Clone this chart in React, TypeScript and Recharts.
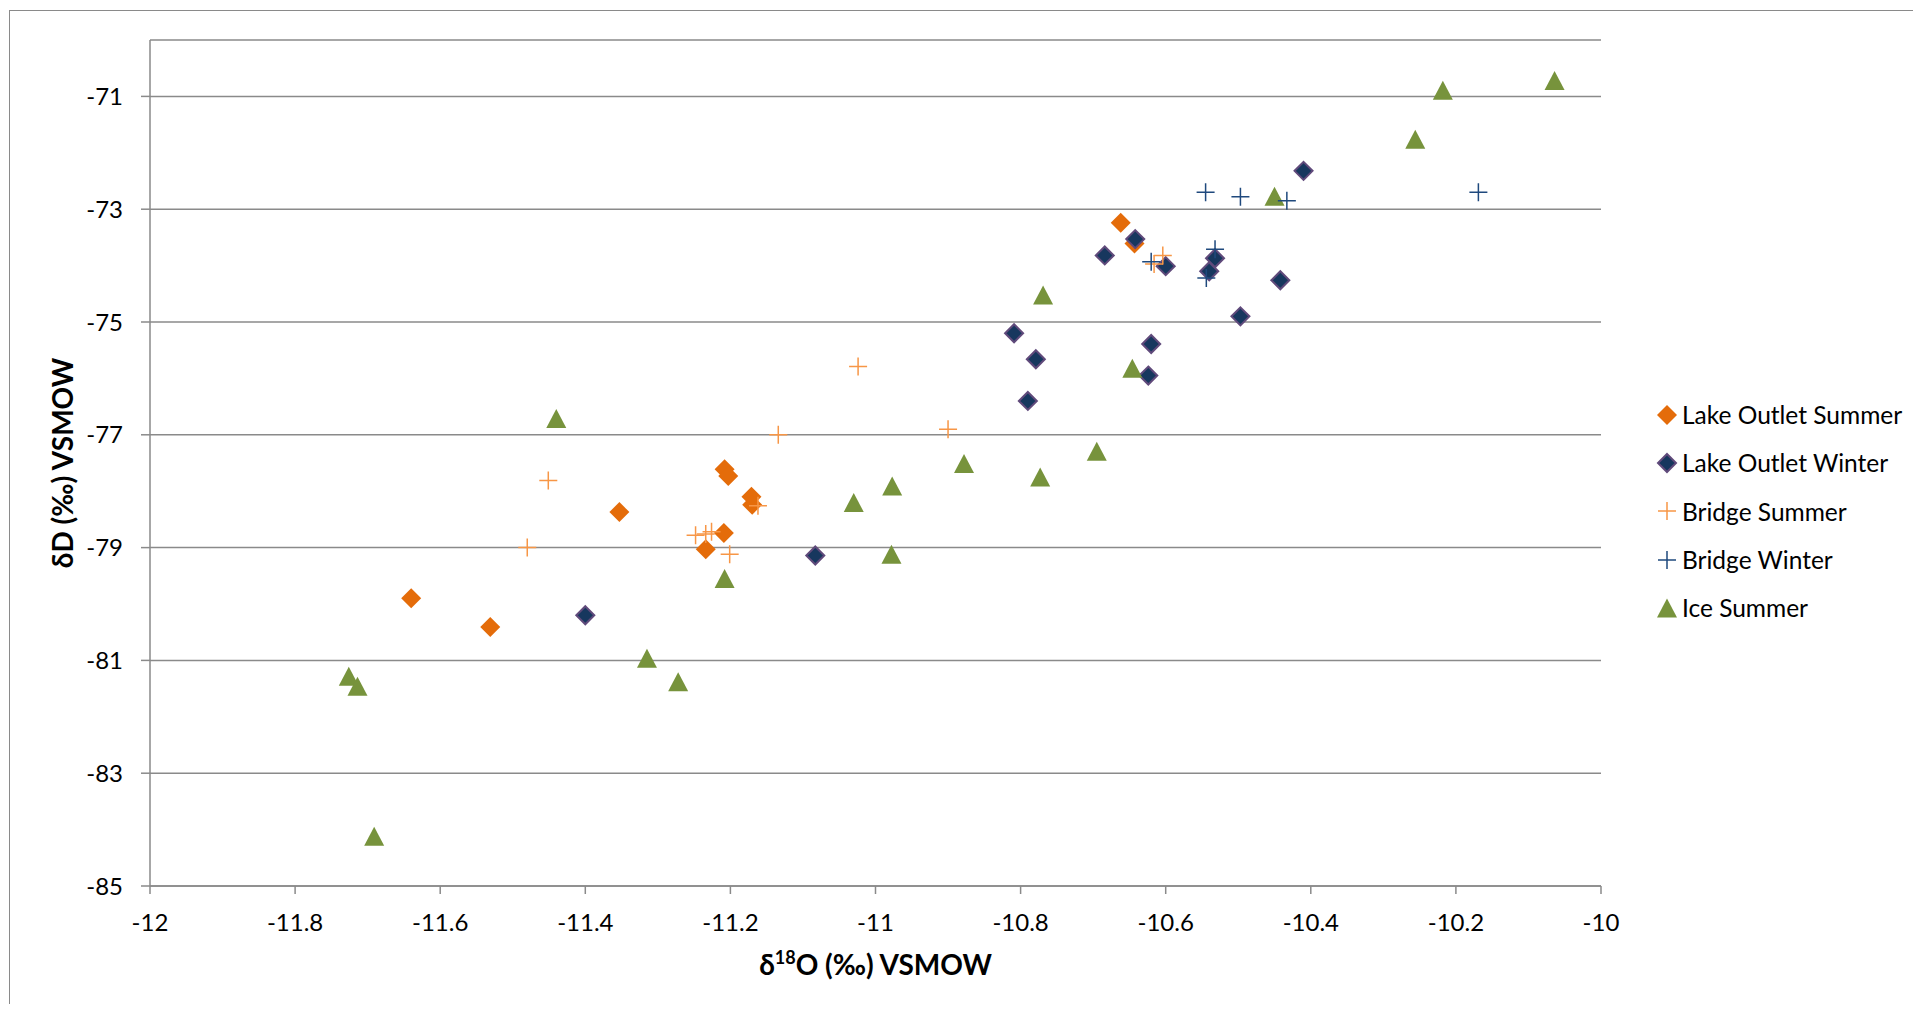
import React from 'react';
import { ScatterChart, Scatter, XAxis, YAxis, CartesianGrid, Legend, Label } from 'recharts';

const xTicks = [-12, -11.8, -11.6, -11.4, -11.2, -11, -10.8, -10.6, -10.4, -10.2, -10];
const yTicks = [-85, -83, -81, -79, -77, -75, -73, -71];
const xDomain = [-12, -10];
const yDomain = [-85, -70];

const lakeOutletSummer = [
  { x: -10.662, y: -73.24 }, { x: -10.643, y: -73.61 }, { x: -11.208, y: -77.61 },
  { x: -11.203, y: -77.73 }, { x: -11.171, y: -78.1 }, { x: -11.17, y: -78.24 },
  { x: -11.353, y: -78.37 }, { x: -11.209, y: -78.74 }, { x: -11.234, y: -79.03 },
  { x: -11.64, y: -79.9 }, { x: -11.531, y: -80.41 },
];

const lakeOutletWinter = [
  { x: -10.41, y: -72.32 }, { x: -10.642, y: -73.53 }, { x: -10.684, y: -73.82 },
  { x: -10.6, y: -74.01 }, { x: -10.532, y: -73.87 }, { x: -10.54, y: -74.1 },
  { x: -10.442, y: -74.26 }, { x: -10.497, y: -74.9 }, { x: -10.809, y: -75.2 },
  { x: -10.62, y: -75.39 }, { x: -10.779, y: -75.66 }, { x: -10.624, y: -75.95 },
  { x: -10.79, y: -76.4 }, { x: -11.083, y: -79.14 }, { x: -11.4, y: -80.2 },
];

const bridgeSummer = [
  { x: -10.604, y: -73.82 }, { x: -10.616, y: -73.97 }, { x: -11.024, y: -75.79 },
  { x: -10.9, y: -76.9 }, { x: -11.134, y: -77.0 }, { x: -11.451, y: -77.81 },
  { x: -11.162, y: -78.26 }, { x: -11.248, y: -78.78 }, { x: -11.234, y: -78.76 },
  { x: -11.226, y: -78.72 }, { x: -11.201, y: -79.12 }, { x: -11.48, y: -79.0 },
];

const bridgeWinter = [
  { x: -10.545, y: -72.7 }, { x: -10.497, y: -72.78 }, { x: -10.433, y: -72.85 },
  { x: -10.169, y: -72.7 }, { x: -10.62, y: -73.93 }, { x: -10.532, y: -73.71 },
  { x: -10.544, y: -74.22 },
];

const iceSummer = [
  { x: -10.064, y: -70.72 }, { x: -10.218, y: -70.89 }, { x: -10.256, y: -71.76 },
  { x: -10.45, y: -72.77 }, { x: -10.769, y: -74.52 }, { x: -10.646, y: -75.82 },
  { x: -11.44, y: -76.71 }, { x: -10.695, y: -77.29 }, { x: -10.878, y: -77.51 },
  { x: -10.773, y: -77.75 }, { x: -10.977, y: -77.91 }, { x: -11.03, y: -78.2 },
  { x: -10.978, y: -79.12 }, { x: -11.208, y: -79.55 }, { x: -11.315, y: -80.96 },
  { x: -11.272, y: -81.38 }, { x: -11.726, y: -81.28 }, { x: -11.714, y: -81.46 },
  { x: -11.691, y: -84.12 },
];

const seriesNames = ['Lake Outlet Summer', 'Lake Outlet Winter', 'Bridge Summer', 'Bridge Winter', 'Ice Summer'];

const ORANGE = '#E46C0A';
const NAVY = '#17375E';
const PURPLE = '#604A7B';
const LIGHT_ORANGE = '#F79646';
const BLUE = '#1F497D';
const GREEN = '#77933C';
const GRID = '#8a8a8a';
const FONT = 'Lato, Carlito, Calibri, "Open Sans", sans-serif';

type MP = { cx?: number; cy?: number };

const OrangeDiamond = ({ cx = 0, cy = 0 }: MP) => (
  <path d={`M${cx},${cy - 10}L${cx + 10},${cy}L${cx},${cy + 10}L${cx - 10},${cy}Z`} fill={ORANGE} />
);
const NavyDiamond = ({ cx = 0, cy = 0 }: MP) => (
  <path d={`M${cx},${cy - 9}L${cx + 9},${cy}L${cx},${cy + 9}L${cx - 9},${cy}Z`} fill={NAVY} stroke={PURPLE} strokeWidth={2} />
);
const Plus = (color: string) => ({ cx = 0, cy = 0 }: MP) => (
  <path d={`M${cx - 9},${cy}H${cx + 9}M${cx},${cy - 9}V${cy + 9}`} stroke={color} strokeWidth={1.5} fill="none" />
);
const OrangePlus = Plus(LIGHT_ORANGE);
const BluePlus = Plus(BLUE);
const Triangle = ({ cx = 0, cy = 0 }: MP) => (
  <path d={`M${cx},${cy - 9.5}L${cx + 10},${cy + 9.5}L${cx - 10},${cy + 9.5}Z`} fill={GREEN} />
);

const legendShapes = [OrangeDiamond, NavyDiamond, OrangePlus, BluePlus, Triangle];

const renderLegend = () => (
  <div style={{ fontFamily: FONT, fontSize: 24.5, color: '#000' }}>
    {seriesNames.map((name, i) => {
      const Shape = legendShapes[i];
      return (
        <div key={name} style={{ height: 48.3, display: 'flex', alignItems: 'center', whiteSpace: 'nowrap' }}>
          <svg width={22} height={22} style={{ display: 'block' }}>
            <Shape cx={11} cy={11} />
          </svg>
          <span style={{ marginLeft: 4 }}>{name}</span>
        </div>
      );
    })}
  </div>
);

const YTitle = (props: any) => {
  const vb = props.viewBox || { x: 0, y: 32, width: 142, height: 846 };
  const x = vb.x + 65;
  const y = vb.y + vb.height / 2;
  return (
    <text x={x} y={y} transform={`rotate(-90, ${x}, ${y})`} textAnchor="middle" fontFamily={FONT} fontWeight="bold" fontSize={28} fill="#000">
      δD (‰) VSMOW
    </text>
  );
};

const XTitle = (props: any) => {
  const vb = props.viewBox || { x: 142, y: 878, width: 1451, height: 60 };
  const x = vb.x + vb.width / 2;
  const y = vb.y + 89;
  return (
    <text x={x} y={y} textAnchor="middle" fontFamily={FONT} fontWeight="bold" fontSize={28} fill="#000">
      <tspan>δ</tspan>
      <tspan dy={-11} fontSize={18}>18</tspan>
      <tspan dy={11}>O (‰) VSMOW</tspan>
    </text>
  );
};

export default function App() {
  return (
    <div style={{ position: 'relative', width: 1905, height: 996, overflow: 'hidden', background: '#fff' }}>
      <div style={{ position: 'absolute', left: 1, top: 2, width: 2100, height: 1200, border: '1.5px solid #8a8a8a' }} />
      <div style={{ position: 'absolute', left: 0, top: 0 }}>
        <ScatterChart width={1905} height={996} margin={{ top: 32, right: 312, bottom: 58, left: 0 }}>
          <CartesianGrid horizontal={true} vertical={false} stroke={GRID} strokeWidth={1.5} />
          <XAxis
            type="number"
            dataKey="x"
            domain={xDomain}
            ticks={xTicks}
            allowDataOverflow
            height={60}
            tickSize={8}
            tickMargin={20}
            stroke={GRID}
            strokeWidth={1.5}
            tick={{ fill: '#000', fontSize: 24, fontFamily: FONT }}
            tickFormatter={(v: number) => String(v)}
          >
            <Label content={XTitle} />
          </XAxis>
          <YAxis
            type="number"
            dataKey="y"
            domain={yDomain}
            ticks={yTicks}
            allowDataOverflow
            width={142}
            tickSize={9}
            tickMargin={18}
            stroke={GRID}
            strokeWidth={1.5}
            tick={{ fill: '#000', fontSize: 24, fontFamily: FONT }}
          >
            <Label content={YTitle} />
          </YAxis>
          <Legend
            layout="vertical"
            align="center"
            verticalAlign="middle"
            content={renderLegend}
            wrapperStyle={{ left: 1648, top: 382.5, width: 250, height: 245 }}
          />
          <Scatter name={seriesNames[0]} data={lakeOutletSummer} shape={OrangeDiamond} isAnimationActive={false} />
          <Scatter name={seriesNames[1]} data={lakeOutletWinter} shape={NavyDiamond} isAnimationActive={false} />
          <Scatter name={seriesNames[4]} data={iceSummer} shape={Triangle} isAnimationActive={false} />
          <Scatter name={seriesNames[2]} data={bridgeSummer} shape={OrangePlus} isAnimationActive={false} />
          <Scatter name={seriesNames[3]} data={bridgeWinter} shape={BluePlus} isAnimationActive={false} />
        </ScatterChart>
      </div>
    </div>
  );
}
